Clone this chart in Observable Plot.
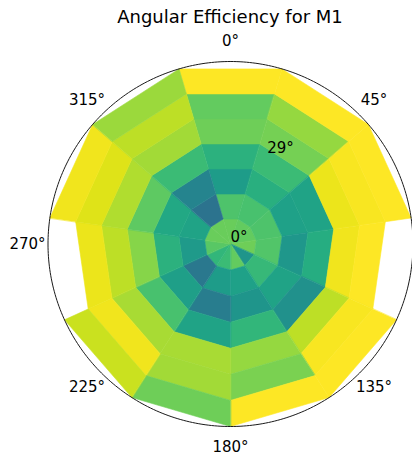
<!DOCTYPE html>
<html><head><meta charset="utf-8">
<script src="https://cdn.jsdelivr.net/npm/d3@7"></script>
<script src="https://cdn.jsdelivr.net/npm/@observablehq/plot@0.6"></script>
<style>
html,body{margin:0;padding:0;background:#fff;overflow:hidden;font-family:"DejaVu Sans",sans-serif;}
#title{position:relative;height:32px;width:412px;}
#title span{position:absolute;left:230px;top:2px;line-height:30px;font-size:18px;transform:translateX(-50%);white-space:nowrap;color:#000;}
</style></head><body>
<div id="title"><span>Angular Efficiency for M1</span></div>
<div id="chart"></div>
<script>
// sector centres (azimuth, degrees clockwise from top)
const sectorAngles = [0, 32.73, 65.45, 98.18, 130.91, 163.64, 196.36, 229.09, 261.82, 294.55, 327.27];
// ring edges (polar angle, radians)
const ringEdges = [0, 0.136, 0.272, 0.408, 0.544, 0.68, 0.816, 0.952];
// efficiency per ring (inner -> outer), one value per sector
const ring0 = [0.77, 0.76, 0.76, 0.78, 0.52, 0.76, 0.68, 0.66, 0.74, 0.77, 0.77];
const ring1 = [0.72, 0.71, 0.72, 0.73, 0.67, 0.57, 0.55, 0.40, 0.54, 0.58, 0.38];
const ring2 = [0.55, 0.63, 0.57, 0.53, 0.58, 0.52, 0.42, 0.56, 0.64, 0.60, 0.45];
const ring3 = [0.64, 0.68, 0.58, 0.62, 0.50, 0.66, 0.58, 0.71, 0.82, 0.75, 0.68];
const ring4 = [0.78, 0.79, 0.97, 0.98, 0.90, 0.84, 0.87, 0.87, 0.90, 0.88, 0.86];
const ring5 = [0.76, 0.84, 0.99, 1.00, 0.99, 0.80, 0.86, 0.98, 0.97, 0.95, 0.90];
const ring6 = [1.00, 1.00, 1.00, NaN, 1.00, 1.00, 0.78, 0.92, NaN, 0.98, 0.85];
// the 90° label falls outside the figure in the reference, so it is not shown
const thetaTicks = [0, 45, 135, 180, 225, 270, 315];
const thetaTickLabels = ["0°", "45°", "135°", "180°", "225°", "270°", "315°"];
const rTicks = [0, 0.5];
const rTickLabels = rTicks.map(r => Math.round(r * 180 / Math.PI) + "°");

const rings = [ring0, ring1, ring2, ring3, ring4, ring5, ring6];
const rMax = ringEdges[ringEdges.length - 1];
const W = 412, H = 423, cx = 230, cy = 211.5, RPX = 182.5;
const k = RPX / rMax;
const n = sectorAngles.length;
const rad = d => d * Math.PI / 180;

const cellPts = [];
rings.forEach((vals, i) => vals.forEach((v, s) => {
  if (!Number.isFinite(v)) return;
  const a0 = rad(sectorAngles[s] - 180 / n), a1 = rad(sectorAngles[s] + 180 / n);
  const r0 = ringEdges[i], r1 = ringEdges[i + 1];
  const id = i * n + s;
  [[r0, a0], [r0, a1], [r1, a1], [r1, a0]].forEach(([r, a]) =>
    cellPts.push({id, value: v, x: r * Math.sin(a), y: r * Math.cos(a)}));
}));
const circlePts = d3.range(0, 360, 1).map(a => ({x: rMax * Math.sin(rad(a)), y: rMax * Math.cos(rad(a))}));
const rLab = rMax * 203 / RPX;
const rlabPos = rad(22.5);

const chart = Plot.plot({
  width: W, height: H, margin: 0,
  x: {domain: [-cx / k, (W - cx) / k], axis: null},
  y: {domain: [-(H - cy) / k, cy / k], axis: null},
  color: {type: "linear", scheme: "viridis", domain: [0, 1]},
  style: {fontFamily: "DejaVu Sans", overflow: "hidden", background: "white"},
  marks: [
    Plot.line(cellPts, {x: "x", y: "y", z: "id", fill: "value", stroke: "value", strokeWidth: 0.6, curve: "linear-closed"}),
    Plot.line(circlePts, {x: "x", y: "y", stroke: "#1a1a1a", strokeWidth: 1, curve: "linear-closed"}),
    Plot.text(thetaTicks, {x: d => rLab * Math.sin(rad(d)), y: d => rLab * Math.cos(rad(d)),
      text: (d, i) => thetaTickLabels[i], fontSize: 15, fill: "#000", lineAnchor: "middle"}),
    Plot.text(rTicks, {x: d => d * Math.sin(rlabPos), y: d => d * Math.cos(rlabPos),
      text: (d, i) => rTickLabels[i], fontSize: 15, fill: "#000", textAnchor: "start", lineAnchor: "bottom", dx: 0, dy: -2.5})
  ]
});
document.getElementById("chart").appendChild(chart);
</script>
</body></html>
